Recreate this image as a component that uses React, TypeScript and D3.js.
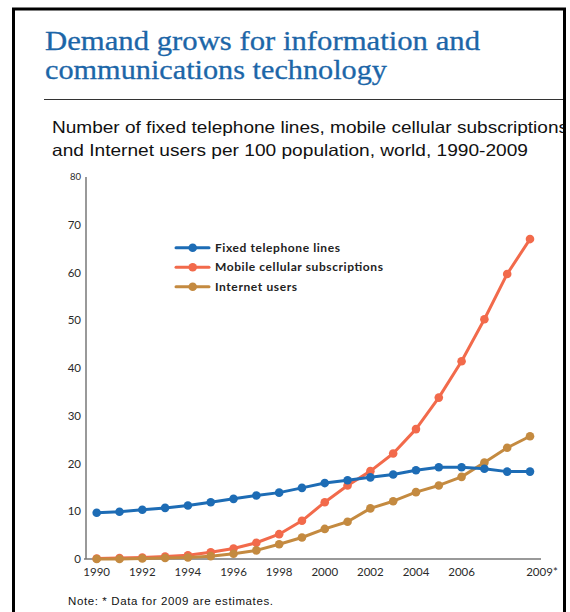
import React from 'react';
import * as d3 from 'd3';

const years = d3.range(1990, 2010);
const fixedLines = [9.7, 9.9, 10.3, 10.7, 11.2, 11.9, 12.6, 13.3, 13.9, 14.9, 15.9, 16.5, 17.1, 17.7, 18.6, 19.2, 19.2, 18.9, 18.3, 18.3];
const mobileSubs = [0.1, 0.2, 0.3, 0.5, 0.8, 1.4, 2.2, 3.4, 5.2, 8.0, 11.9, 15.4, 18.4, 22.1, 27.2, 33.8, 41.4, 50.2, 59.7, 67.0];
const internetUsers = [0.0, 0.0, 0.1, 0.2, 0.3, 0.6, 1.1, 1.8, 3.1, 4.5, 6.3, 7.8, 10.6, 12.1, 14.0, 15.4, 17.2, 20.2, 23.3, 25.7];
const yTicks = [0, 10, 20, 30, 40, 50, 60, 70, 80];
const xTickYears = [1990, 1992, 1994, 1996, 1998, 2000, 2002, 2004, 2006, 2009];
const xTickLabels = ['1990', '1992', '1994', '1996', '1998', '2000', '2002', '2004', '2006', '2009*'];

const seriesList = [
  { name: 'Mobile cellular subscriptions', values: mobileSubs, color: '#f26a4b', legendWidth: 168 },
  { name: 'Internet users', values: internetUsers, color: '#c48a40', legendWidth: 82 },
  { name: 'Fixed telephone lines', values: fixedLines, color: '#1d6cb5', legendWidth: 125 },
];
const legendOrder = ['Fixed telephone lines', 'Mobile cellular subscriptions', 'Internet users'];

export default function App() {
  const x = d3.scaleLinear().domain([1990, 2009]).range([96.7, 530]);
  const y = d3.scaleLinear().domain([0, 80]).range([559, 177]);
  const line = d3.line<number>()
    .x((_, i) => x(years[i]))
    .y(d => y(d));

  const tickFont = 'Lato, "Open Sans", sans-serif';

  return (
    <svg width={570} height={612} style={{ position: 'absolute', left: 0, top: 0, background: '#fff' }}>
      {/* frame */}
      <path d="M13.5,640 V9 H564.5 V640" fill="none" stroke="#000" strokeWidth={3} />

      {/* title */}
      <g fill="#1c66a8" fontFamily='"Liberation Serif", serif' fontSize={27.5} stroke="#1c66a8" strokeWidth={0.3}>
        <text x={45} y={50} textLength={435} lengthAdjust="spacingAndGlyphs">Demand grows for information and</text>
        <text x={45} y={79} textLength={342} lengthAdjust="spacingAndGlyphs">communications technology</text>
      </g>
      <line x1={44} x2={563} y1={99.5} y2={99.5} stroke="#333" strokeWidth={1} />

      {/* subtitle */}
      <clipPath id="frameClip"><rect x={15} y={10} width={548} height={600} /></clipPath>
      <g fill="#111" fontFamily='"Liberation Sans", Arial, sans-serif' fontSize={16.5} clipPath="url(#frameClip)">
        <text x={52} y={133} textLength={516} lengthAdjust="spacingAndGlyphs">Number of fixed telephone lines, mobile cellular subscriptions</text>
        <text x={52} y={156} textLength={476} lengthAdjust="spacingAndGlyphs">and Internet users per 100 population, world, 1990-2009</text>
      </g>

      {/* axes */}
      <line x1={86} x2={86} y1={y(80)} y2={y(0)} stroke="#777" strokeWidth={1.5} />
      <line x1={84} x2={541} y1={y(0)} y2={y(0)} stroke="#777" strokeWidth={1.5} />
      <g fontFamily={tickFont} fill="#2a2a2a">
        {yTicks.map(t => (
          <text key={t} x={81} y={y(t)} dy="0.35em" textAnchor="end" fontSize={t === 80 ? 9.5 : 11.5}>{t}</text>
        ))}
        {xTickYears.map((yr, i) => (
          <text key={yr} x={x(yr) + (yr === 2009 ? 12 : 0)} y={576} textAnchor="middle" fontSize={11.5}>{xTickLabels[i]}</text>
        ))}
      </g>

      {/* series */}
      {seriesList.map(s => (
        <g key={s.name}>
          <path d={line(s.values) ?? ''} fill="none" stroke={s.color} strokeWidth={3} strokeLinejoin="round" />
          {s.values.map((v, i) => (
            <circle key={i} cx={x(years[i])} cy={y(v)} r={4.3} fill={s.color} />
          ))}
        </g>
      ))}

      {/* legend */}
      <g fontFamily={tickFont} fontWeight="bold" fontSize={12} fill="#222">
        {legendOrder.map((name, i) => {
          const s = seriesList.find(d => d.name === name)!;
          const ly = 247.7 + i * 19.5;
          return (
            <g key={name}>
              <line x1={176} x2={209} y1={ly} y2={ly} stroke={s.color} strokeWidth={3} strokeLinecap="round" />
              <circle cx={192.7} cy={ly} r={4.3} fill={s.color} />
              <text x={215} y={ly} dy="0.35em" textLength={s.legendWidth} lengthAdjust="spacing">{name}</text>
            </g>
          );
        })}
      </g>

      {/* note */}
      <text x={68} y={605} fontFamily='"Liberation Sans", Arial, sans-serif' fontSize={11.5} fill="#111" textLength={205} lengthAdjust="spacing">Note: * Data for 2009 are estimates.</text>
    </svg>
  );
}
